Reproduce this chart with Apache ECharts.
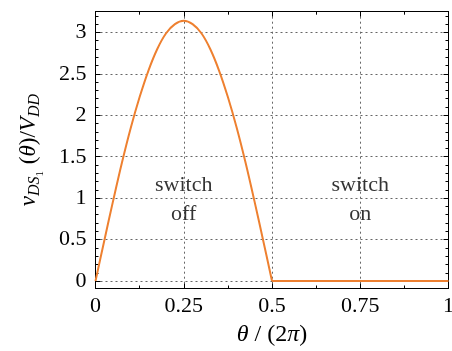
<!DOCTYPE html>
<html>
<head>
<meta charset="utf-8">
<script src="https://cdn.jsdelivr.net/npm/echarts@6/dist/echarts.min.js"></script>
<style>
  html, body { margin: 0; padding: 0; background: #ffffff; }
  #chart { width: 452px; height: 351px; }
</style>
</head>
<body>
<div id="chart"></div>
<script>
// Switch voltage over one period, normalised to the supply voltage.
// Switch open (off) interval: theta/(2*pi) from 0 to 0.5
const thetaOff = [0, 0.025, 0.05, 0.075, 0.1, 0.125, 0.15, 0.175, 0.2, 0.225, 0.25,
                  0.275, 0.3, 0.325, 0.35, 0.375, 0.4, 0.425, 0.45, 0.475, 0.5];
const vOff = [0, 0.49, 0.97, 1.43, 1.85, 2.22, 2.54, 2.80, 2.99, 3.10, 3.14,
              3.10, 2.99, 2.80, 2.54, 2.22, 1.85, 1.43, 0.97, 0.49, 0];
// Switch closed (on) interval: voltage held at zero
const thetaOn = [0.5, 1];
const vOn = [0, 0];

// Axis ticks
const xMajorTicks = [0, 0.25, 0.5, 0.75, 1];
const yMajorTicks = [0, 0.5, 1, 1.5, 2, 2.5, 3];
const yMinorTicks = [0.1, 0.2, 0.3, 0.4, 0.6, 0.7, 0.8, 0.9, 1.1, 1.2, 1.3, 1.4,
                     1.6, 1.7, 1.8, 1.9, 2.1, 2.2, 2.3, 2.4, 2.6, 2.7, 2.8, 2.9,
                     3.1, 3.2];

// Region annotations
const regionLabels = [
  { x: 0.25, y: 0.98, text: 'switch\noff' },
  { x: 0.75, y: 0.98, text: 'switch\non' }
];

const FONT = 'Liberation Serif';
const LINE = '#ee8030';
const Y_MIN = -0.09, Y_MAX = 3.25;

const chart = echarts.init(document.getElementById('chart'), null, { renderer: 'canvas' });

const gridLine = { show: true, lineStyle: { color: '#666', width: 1, type: [2, 3] } };

function yAxisBase(extra) {
  return Object.assign({
    type: 'value', min: Y_MIN, max: Y_MAX,
    axisLine: { show: true, onZero: false, lineStyle: { color: '#000', width: 1 } },
    splitLine: { show: false },
    axisLabel: { show: false },
    minorTick: { show: false }
  }, extra);
}

const option = {
  animation: false,
  backgroundColor: '#ffffff',
  textStyle: { fontFamily: FONT },
  grid: { left: 95.5, right: 3.5, top: 11.7, bottom: 62.5, containLabel: false, outerBoundsMode: 'none' },
  xAxis: [
    {
      type: 'value', min: 0, max: 1, interval: 0.25, position: 'bottom',
      axisLine: { show: true, onZero: false, lineStyle: { color: '#000', width: 1 } },
      axisTick: { show: true, inside: true, length: 5, lineStyle: { color: '#000' } },
      minorTick: { show: true, splitNumber: 2, length: 3, lineStyle: { color: '#000' } },
      splitLine: gridLine,
      axisLabel: {
        color: '#000', fontFamily: FONT, fontSize: 22, margin: 7,
        customValues: xMajorTicks, hideOverlap: false,
        formatter: v => String(v)
      },
      name: '{i|θ}{n| / (2}{i|π}{n|)}',
      nameLocation: 'middle', nameGap: 34,
      nameTextStyle: {
        rich: {
          i: { fontFamily: FONT, fontStyle: 'italic', fontSize: 24, color: '#000' },
          n: { fontFamily: FONT, fontSize: 24, color: '#000' }
        }
      }
    },
    {
      type: 'value', min: 0, max: 1, interval: 0.25, position: 'top',
      axisLine: { show: true, onZero: false, lineStyle: { color: '#000', width: 1 } },
      axisTick: { show: true, inside: true, length: 5, lineStyle: { color: '#000' } },
      minorTick: { show: true, splitNumber: 2, length: 3, lineStyle: { color: '#000' } },
      splitLine: { show: false },
      axisLabel: { show: false }
    }
  ],
  yAxis: [
    yAxisBase({
      position: 'left',
      axisTick: { show: true, inside: true, length: 5, customValues: yMajorTicks, lineStyle: { color: '#000' } },
      axisLabel: {
        show: true, color: '#000', fontFamily: FONT, fontSize: 22, margin: 9,
        customValues: yMajorTicks, formatter: v => String(v)
      },
      splitLine: gridLine,
      name: '{i|v}{s|DS}{ss|1}{n| (}{i|θ}{n|)/}{i|V}{s|DD}',
      nameLocation: 'middle', nameGap: 50, nameRotate: 90,
      nameTextStyle: {
        rich: {
          i: { fontFamily: FONT, fontStyle: 'italic', fontSize: 23, color: '#000', lineHeight: 28 },
          n: { fontFamily: FONT, fontSize: 23, color: '#000', lineHeight: 28 },
          s: { fontFamily: FONT, fontStyle: 'italic', fontSize: 16, color: '#000', padding: [12, 0, 0, 0] },
          ss: { fontFamily: FONT, fontSize: 11, color: '#000', padding: [22, 1, 0, 0] }
        }
      }
    }),
    yAxisBase({
      position: 'right',
      axisTick: { show: true, inside: true, length: 5, customValues: yMajorTicks, lineStyle: { color: '#000' } }
    }),
    yAxisBase({
      position: 'left',
      axisTick: { show: true, inside: true, length: 3, customValues: yMinorTicks, lineStyle: { color: '#000' } }
    }),
    yAxisBase({
      position: 'right',
      axisTick: { show: true, inside: true, length: 3, customValues: yMinorTicks, lineStyle: { color: '#000' } }
    })
  ],
  series: [
    {
      name: 'switch off', type: 'line', xAxisIndex: 0, yAxisIndex: 0,
      data: thetaOff.map((t, i) => [t, vOff[i]]),
      smooth: 0.35, showSymbol: false, symbol: 'none',
      lineStyle: { color: LINE, width: 2 }, z: 5
    },
    {
      name: 'switch on', type: 'line', xAxisIndex: 0, yAxisIndex: 0,
      data: thetaOn.map((t, i) => [t, vOn[i]]),
      showSymbol: false, symbol: 'none',
      lineStyle: { color: LINE, width: 2 }, z: 5
    },
    {
      name: 'regions', type: 'scatter', xAxisIndex: 0, yAxisIndex: 0,
      symbolSize: 0, silent: true,
      data: regionLabels.map(r => ({ value: [r.x, r.y], label: { formatter: r.text } })),
      label: {
        show: true, position: 'inside', color: '#000', textBorderWidth: 0,
        fontFamily: FONT, fontSize: 22, lineHeight: 29, align: 'center'
      }
    }
  ]
};

chart.setOption(option);
</script>
</body>
</html>
